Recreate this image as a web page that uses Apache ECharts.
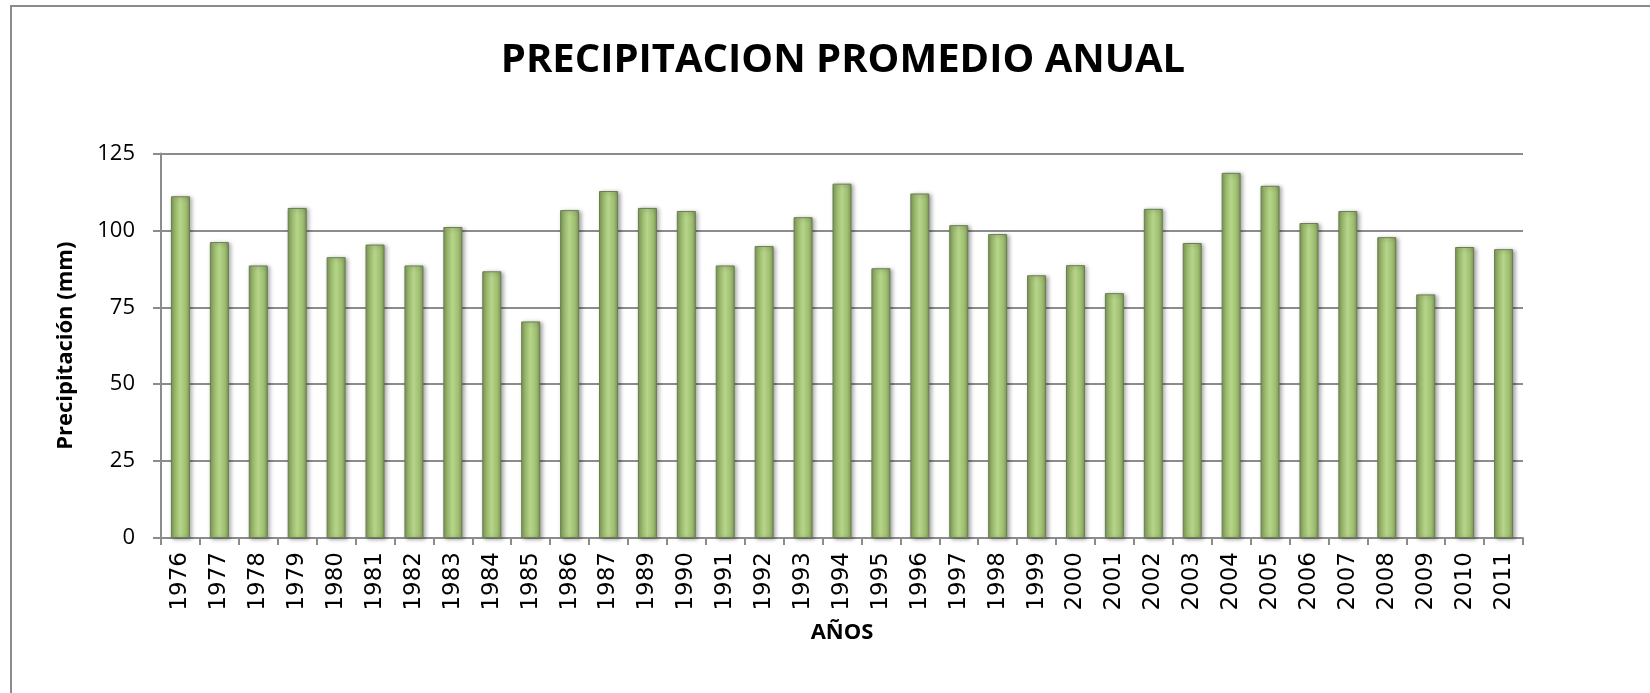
<!DOCTYPE html>
<html>
<head>
<meta charset="utf-8">
<script src="https://cdn.jsdelivr.net/npm/echarts@6/dist/echarts.min.js"></script>
<style>
html,body{margin:0;padding:0;background:#fff;}
#chart{width:1650px;height:693px;}
</style>
</head>
<body>
<div id="chart"></div>
<script>
var years = ['1976','1977','1978','1979','1980','1981','1982','1983','1984','1985','1986','1987','1989','1990','1991','1992','1993','1994','1995','1996','1997','1998','1999','2000','2001','2002','2003','2004','2005','2006','2007','2008','2009','2010','2011'];
// el 1988 no aparece en el grafico original
var precip = [111.1,96.2,88.6,107.3,91.3,95.4,88.6,101.1,86.7,70.4,106.6,112.8,107.3,106.3,88.6,94.9,104.3,115.2,87.7,112.0,101.7,98.8,85.4,88.7,79.6,107.0,95.9,118.7,114.5,102.4,106.3,97.8,79.2,94.6,93.9];
var yTicks = [0,25,50,75,100,125];

var barColor = new echarts.graphic.LinearGradient(0,0,1,0,[
	{offset:0, color:'#7b9853'},
	{offset:0.2, color:'#9dbd6f'},
	{offset:0.5, color:'#b6d58a'},
	{offset:0.8, color:'#9dbd6f'},
	{offset:1, color:'#7b9853'}
]);

var myChart = echarts.init(document.getElementById('chart'));
var option = {
	backgroundColor:'#fff',
	animation:false,
	title:{
		text:'PRECIPITACION PROMEDIO ANUAL',
		left:838,
		textAlign:'center',
		top:36,
		textStyle:{
			fontFamily:'"Open Sans",sans-serif',
			fontWeight:'bold',
			fontSize:40,
			color:'#000'
		}
	},
	graphic:[{
		type:'rect',
		shape:{x:11,y:6,width:1800,height:900},
		style:{fill:'none',stroke:'#8c8c8c',lineWidth:2},
		silent:true
	}],
	grid:{left:161,right:127,top:153.5,bottom:155},
	xAxis:{
		type:'category',
		data:years,
		name:'AÑOS',
		nameLocation:'middle',
		nameGap:84,
		nameTextStyle:{fontFamily:'"Open Sans",sans-serif',fontWeight:'bold',fontSize:22,color:'#000'},
		axisLine:{lineStyle:{color:'#8c8c8c',width:2}},
		axisTick:{show:true,length:7,lineStyle:{color:'#8c8c8c',width:2}},
		axisLabel:{
			rotate:90,
			interval:0,
			margin:14,
			fontFamily:'"DejaVu Sans",sans-serif',
			fontSize:23,
			color:'#000'
		}
	},
	yAxis:{
		type:'value',
		min:0,
		max:125,
		interval:25,
		name:'Precipitación (mm)',
		nameLocation:'middle',
		nameGap:84,
		nameTextStyle:{fontFamily:'"Open Sans",sans-serif',fontWeight:'bold',fontSize:22,color:'#000'},
		axisLine:{show:true,lineStyle:{color:'#8c8c8c',width:2}},
		axisTick:{show:true,length:8,lineStyle:{color:'#8c8c8c',width:2}},
		splitLine:{lineStyle:{color:'#8c8c8c',width:2}},
		axisLabel:{
			margin:26,
			fontFamily:'"Open Sans",sans-serif',
			fontSize:22,
			color:'#000',
			formatter:function(v){ return yTicks.indexOf(v) >= 0 ? v : ''; }
		}
	},
	series:[{
		name:'Precipitación',
		type:'bar',
		data:precip,
		barWidth:19,
		itemStyle:{
			color:barColor,
			borderColor:'#6c7d55',
			borderWidth:1,
			shadowColor:'rgba(0,0,0,0.35)',
			shadowBlur:4,
			shadowOffsetX:2,
			shadowOffsetY:1
		}
	}]
};
myChart.setOption(option);
</script>
</body>
</html>
